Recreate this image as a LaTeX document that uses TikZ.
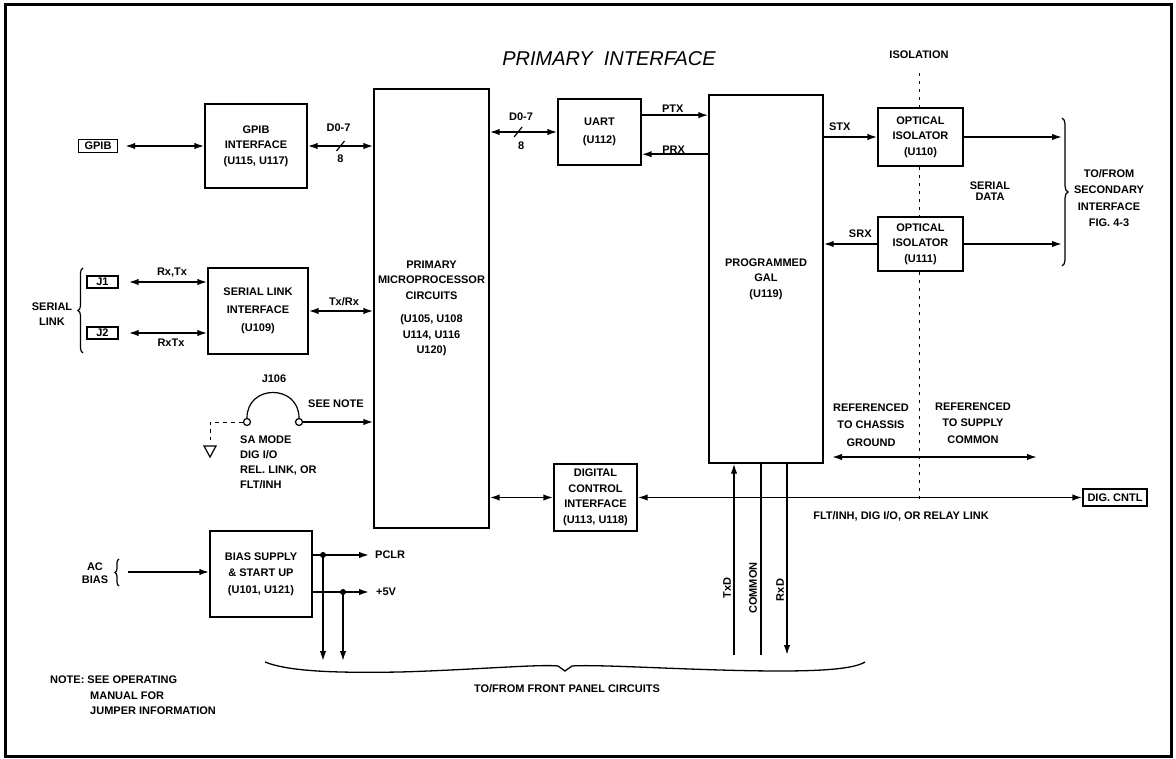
\documentclass[tikz,border=0pt]{standalone}
\usepackage{fontspec}
\setmainfont{Liberation Sans}
\usetikzlibrary{arrows.meta,decorations.pathreplacing,calc}
\newcommand{\lblf}{\fontsize{11}{15.5}\selectfont\bfseries}
\begin{document}
\begin{tikzpicture}[x=1pt,y=-1pt,
  box/.style={draw,line width=1.4pt,inner sep=0pt,align=center,font=\lblf},
  lbl/.style={inner sep=0pt,align=center,font=\lblf},
  conn/.style={line width=1.6pt},
  arr/.style={conn,-{Latex[length=10pt,width=6.5pt]}},
  dbl/.style={conn,{Latex[length=10pt,width=6.5pt]}-{Latex[length=10pt,width=6.5pt]}},
  iso/.style={line width=1pt,dash pattern=on 3pt off 5pt},
  brc/.style={line width=1.2pt,decorate,decoration={brace,amplitude=#1}},
  pin/.style={circle,draw,line width=1.2pt,minimum size=7pt,inner sep=0pt}]
\useasboundingbox (0,0) rectangle (1176,759);
\draw[line width=3pt] (5,5) rectangle (1171,756);

% title
\node[inner sep=0pt,font=\fontsize{20}{24}\selectfont\itshape] (title) at (609,59) {PRIMARY\ \ INTERFACE};

% blocks
\node[box,minimum width=39pt,minimum height=13pt] (gpibc) at (98,146) {GPIB};
\node[box,minimum width=102pt,minimum height=84pt] (gpibif) at (256,146) {GPIB\\INTERFACE\\(U115, U117)};
\node[box,minimum width=115pt,minimum height=439pt] (micro) at (431.5,308.5) {PRIMARY\\MICROPROCESSOR\\CIRCUITS\\[8pt](U105, U108\\U114, U116\\U120)};
\node[box,minimum width=83pt,minimum height=66pt,font=\fontsize{11}{18}\selectfont\bfseries] (uart) at (599.5,132) {UART\\(U112)};
\node[box,minimum width=114pt,minimum height=368pt] (gal) at (766,279) {PROGRAMMED\\GAL\\(U119)};
\node[box,minimum width=85pt,minimum height=58pt] (oi1) at (920.5,137) {OPTICAL\\ISOLATOR\\(U110)};
\node[box,minimum width=85pt,minimum height=54pt] (oi2) at (920.5,244) {OPTICAL\\ISOLATOR\\(U111)};
\node[box,minimum width=31pt,minimum height=12pt] (j1) at (102.5,282) {J1};
\node[box,minimum width=31pt,minimum height=12pt] (j2) at (102.5,333) {J2};
\node[box,minimum width=100pt,minimum height=86pt,font=\fontsize{11}{18}\selectfont\bfseries] (sl) at (258,311) {SERIAL LINK\\INTERFACE\\(U109)};
\node[box,minimum width=83pt,minimum height=67pt] (dci) at (595.5,497.5) {DIGITAL\\CONTROL\\INTERFACE\\(U113, U118)};
\node[box,minimum width=64pt,minimum height=17pt] (digc) at (1115,497.5) {DIG. CNTL};
\node[box,minimum width=102pt,minimum height=86pt,font=\fontsize{11}{16.5}\selectfont\bfseries] (bias) at (261,574) {BIAS SUPPLY\\\& START UP\\(U101, U121)};

% GPIB and bus to micro
\draw[dbl,shorten <=7pt] (gpibc.east) -- (gpibif.west);
\draw[dbl] (gpibif.east) -- (micro.west |- gpibif.east) coordinate[pos=0.5] (s1);
\draw[line width=1.2pt] ($(s1)+(-4,5)$) -- ($(s1)+(4,-5)$);
\node[lbl] at ($(s1)+(-2,-18)$) {D0-7};
\node[lbl] at ($(s1)+(0,13)$) {8};

% bus micro - uart
\draw[dbl] (micro.east |- uart.west) -- (uart.west) coordinate[pos=0.42] (s2);
\draw[line width=1.2pt] ($(s2)+(-4,5)$) -- ($(s2)+(4,-5)$);
\node[lbl] at ($(s2)+(3,-15)$) {D0-7};
\node[lbl] at ($(s2)+(3,14)$) {8};

% uart - gal
\coordinate (ptx) at ($(uart.north east)!0.25!(uart.south east)$);
\coordinate (prx) at ($(uart.north east)!0.83!(uart.south east)$);
\draw[arr] (ptx) -- (gal.west |- ptx);
\draw[arr] (gal.west |- prx) -- (prx);
\node[lbl] at ($(ptx)+(31,-6)$) {PTX};
\node[lbl] at ($(prx)+(32,-5)$) {PRX};

% gal - isolators
\draw[arr] (gal.east |- oi1.west) -- (oi1.west);
\node[lbl] at ($(gal.east |- oi1.west)+(16,-10)$) {STX};
\draw[arr] (oi2.west) -- (gal.east |- oi2.west);
\node[lbl] at ($(oi2.west)+(-17,-10)$) {SRX};
\coordinate (br1) at (1062,137);
\draw[arr] (oi1.east) -- (br1 |- oi1.east);
\draw[arr] (oi2.east) -- (br1 |- oi2.east);
\draw[brc=6pt] (1062,118) -- (1062,266);
\node[lbl,font=\fontsize{11}{16.5}\selectfont\bfseries] (sec) at (1109,198) {TO/FROM\\SECONDARY\\INTERFACE\\FIG. 4-3};
\node[lbl,font=\fontsize{11}{11.5}\selectfont\bfseries] (sdata) at (990,191) {SERIAL\\DATA};

% isolation line
\node[lbl] (isol) at (919,55) {ISOLATION};
\coordinate (isot) at (919,73);
\coordinate (isob) at (919,500);
\draw[iso] (isot) -- (isot |- oi1.north);
\draw[iso] (isot |- oi1.south) -- (isot |- oi2.north);
\draw[iso] (isot |- oi2.south) -- (isob);

% referenced
\node[lbl,font=\fontsize{11}{17.5}\selectfont\bfseries] (refl) at (871,425) {REFERENCED\\TO CHASSIS\\GROUND};
\node[lbl,font=\fontsize{11}{16.5}\selectfont\bfseries] (refr) at (973,423) {REFERENCED\\TO SUPPLY\\COMMON};
\coordinate (rl) at (832,457);
\coordinate (rr) at (1037,457);
\draw[dbl] (rl) -- (rr);

% serial link
\draw[dbl,shorten <=10pt] (j1.east) -- (sl.west |- j1.east);
\draw[dbl,shorten <=10pt] (j2.east) -- (sl.west |- j2.east);
\node[lbl] at (172,273) {Rx,Tx};
\node[lbl] at (171,343) {RxTx};
\draw[dbl] (sl.east) -- (micro.west |- sl.east);
\node[lbl] at (344,302) {Tx/Rx};
\draw[brc=5pt] (83,353) -- (83,268);
\node[lbl] (slink) at (52,314) {SERIAL\\LINK};

% jumper J106
\node[pin] (jl) at (247,422) {};
\node[pin] (jr) at (299,422) {};
\draw[line width=1.2pt] (jl.north) .. controls (247,384) and (299,384) .. (jr.north);
\node[lbl] at (274,379) {J106};
\node[lbl] at (336,404) {SEE NOTE};
\draw[arr] (jr.east) -- (micro.west |- jr.east);
\coordinate (gt) at (210,422);
\coordinate (gb) at (210,440);
\draw[line width=1pt,dash pattern=on 4pt off 4pt] (jl.west) -- (gt) -- (gb);
\draw[line width=1.2pt] ($(gb)+(-6,6)$) -- ($(gb)+(6,6)$) -- ($(gb)+(0,17)$) -- cycle;
\node[lbl,align=left,anchor=west,font=\fontsize{11}{15}\selectfont\bfseries] at (240,462) {SA MODE\\DIG I/O\\REL. LINK, OR\\FLT/INH};

% digital control
\draw[dbl] (micro.east |- dci.west) -- (dci.west);
\draw[dbl] (dci.east) -- (digc.west);
\node[lbl] at (901,516) {FLT/INH, DIG I/O, OR RELAY LINK};

% gal bottom lines
\coordinate (txb) at (734,655);
\coordinate (cmb) at (761,655);
\coordinate (rxb) at (787,655);
\draw[arr] (txb) -- (txb |- gal.south);
\draw[conn] (cmb |- gal.south) -- (cmb);
\draw[arr] (rxb |- gal.south) -- (rxb);
\node[lbl,rotate=90] at (727,588) {TxD};
\node[lbl,rotate=90] at (753,588) {COMMON};
\node[lbl,rotate=90] at (780,590) {RxD};

% front panel brace
\draw[line width=1.3pt] (265,662) .. controls (290,672) and (340,673) .. (400,672)
  .. controls (470,670) and (540,664) .. (558,666) -- (565,671) -- (572,666)
  .. controls (600,664) and (700,671) .. (780,671) .. controls (830,671) and (855,668) .. (865,662);
\node[lbl] (fp) at (567,689) {TO/FROM FRONT PANEL CIRCUITS};

% bias supply
\node[lbl,font=\fontsize{11}{13}\selectfont\bfseries] (acb) at (95,573) {AC\\BIAS};
\draw[brc=4pt] (119,586) -- (119,559);
\draw[arr,shorten <=9pt] (119,572) -- (bias.west |- 0,572);
\node[lbl,anchor=west] (pclr) at (375,555) {PCLR};
\node[lbl,anchor=west] (p5v) at (376,592) {+5V};
\draw[arr,shorten >=6pt] (bias.east |- pclr.west) -- (pclr.west);
\draw[arr,shorten >=7pt] (bias.east |- p5v.west) -- (p5v.west);
\coordinate (v1) at (323,555);
\coordinate (v2) at (343,592);
\fill (v1) circle (3pt);
\fill (v2) circle (3pt);
\draw[arr] (v1) -- (323,661);
\draw[arr] (v2) -- (343,661);

% note
\node[lbl,anchor=west] at (50,680) {NOTE: SEE OPERATING};
\node[lbl,anchor=west] at (90,696) {MANUAL FOR};
\node[lbl,anchor=west] at (90,711) {JUMPER INFORMATION};
\end{tikzpicture}
\end{document}
